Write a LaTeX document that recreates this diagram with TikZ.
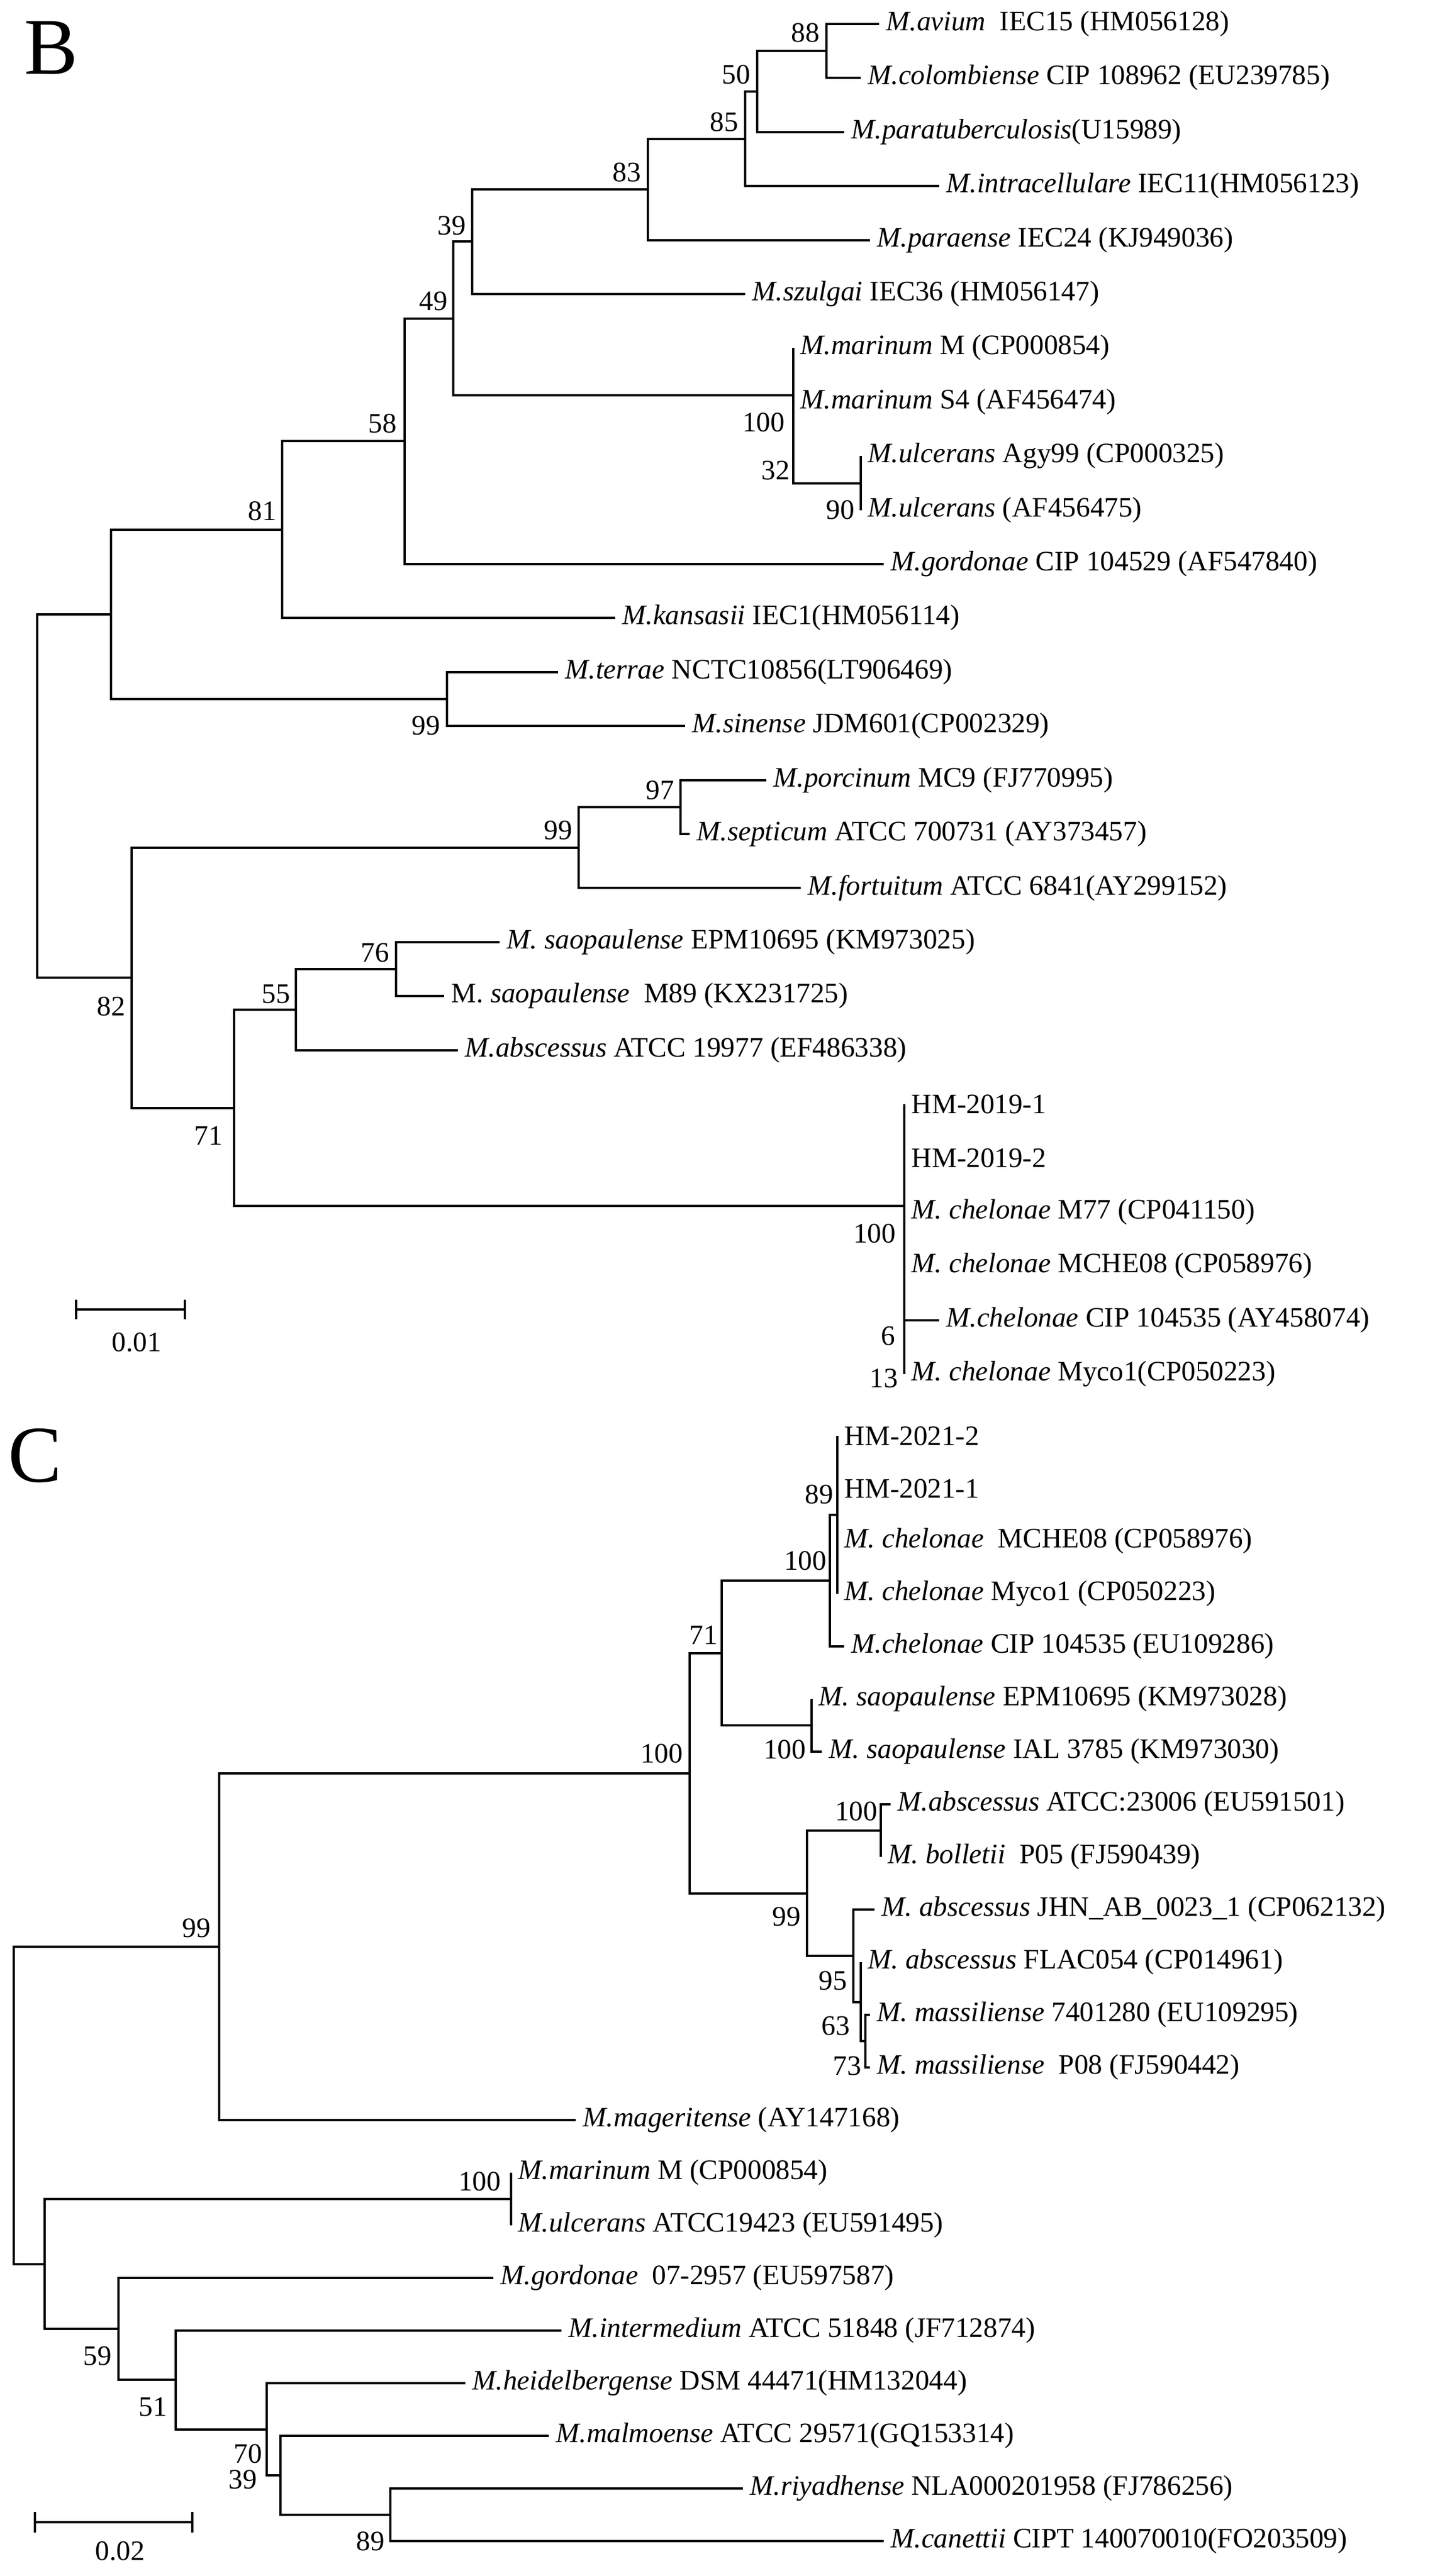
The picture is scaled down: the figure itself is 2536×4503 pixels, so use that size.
\documentclass[tikz,border=0pt]{standalone}
\usepackage{fontspec}
\setmainfont{Liberation Serif}
\begin{document}
\begin{tikzpicture}[x=0.01cm,y=-0.01cm,
  br/.style={line width=1.2pt},
  lab/.style={anchor=west,inner sep=0pt,xshift=0.12cm,font=\fontsize{14}{16}\selectfont},
  bs/.style={inner sep=0pt,font=\fontsize{14}{16}\selectfont},
  big/.style={inner sep=0pt,font=\fontsize{40}{44}\selectfont}]
\useasboundingbox (0,0) rectangle (2536,4503);
\newcommand\lf[4]{\coordinate (#1) at (#2,#3); \node[lab] (#1t) at (#1) {#4};}
\newcommand\bsv[3]{\node[bs] at (#1,#2) {#3};}
% ---------------- Panel B ----------------
\node[big] (B) at (89,84) {B};
\lf{avium}{1536}{42}{\textit{M.avium}\ \ IEC15 (HM056128)}
\lf{colomb}{1504}{136}{\textit{M.colombiense} CIP 108962 (EU239785)}
\lf{paratub}{1475}{231}{\textit{M.paratuberculosis}(U15989)}
\lf{intra}{1641}{325}{\textit{M.intracellulare} IEC11(HM056123)}
\lf{paraense}{1520}{420}{\textit{M.paraense} IEC24 (KJ949036)}
\lf{szulgai}{1302}{514}{\textit{M.szulgai} IEC36 (HM056147)}
\lf{marM}{1386}{608}{\textit{M.marinum} M (CP000854)}
\lf{marS}{1386}{703}{\textit{M.marinum} S4 (AF456474)}
\lf{ulcA}{1504}{797}{\textit{M.ulcerans} Agy99 (CP000325)}
\lf{ulc}{1504}{892}{\textit{M.ulcerans} (AF456475)}
\lf{gord}{1544}{986}{\textit{M.gordonae} CIP 104529 (AF547840)}
\lf{kans}{1075}{1080}{\textit{M.kansasii} IEC1(HM056114)}
\lf{terrae}{975}{1175}{\textit{M.terrae} NCTC10856(LT906469)}
\lf{sin}{1197}{1269}{\textit{M.sinense} JDM601(CP002329)}
\lf{porc}{1339}{1364}{\textit{M.porcinum} MC9 (FJ770995)}
\lf{sept}{1205}{1458}{\textit{M.septicum} ATCC 700731 (AY373457)}
\lf{fort}{1399}{1552}{\textit{M.fortuitum} ATCC 6841(AY299152)}
\lf{saoE}{873}{1647}{\textit{M. saopaulense} EPM10695 (KM973025)}
\lf{saoM}{776}{1741}{M. \textit{saopaulense}\ \ M89 (KX231725)}
\lf{absc}{800}{1836}{\textit{M.abscessus} ATCC 19977 (EF486338)}
\lf{hmA}{1580}{1930}{HM-2019-1}
\lf{hmB}{1580}{2024}{HM-2019-2}
\lf{m77}{1580}{2119}{\textit{M. chelonae} M77 (CP041150)}
\lf{mch}{1580}{2213}{\textit{M. chelonae} MCHE08 (CP058976)}
\lf{cip}{1641}{2308}{\textit{M.chelonae} CIP 104535 (AY458074)}
\lf{myco}{1580}{2402}{\textit{M. chelonae} Myco1(CP050223)}
\coordinate (n88) at (1444,89);
\coordinate (n50) at (1323,160);
\coordinate (n85) at (1302,243);
\coordinate (n83) at (1132,331);
\coordinate (n39) at (825,422);
\coordinate (nUlc) at (1504,845);
\coordinate (nMar) at (1386,691);
\coordinate (n49) at (792,557);
\coordinate (n58) at (707,771);
\coordinate (n81) at (493,926);
\coordinate (nTer) at (781,1222);
\coordinate (nTop) at (194,1074);
\coordinate (n97) at (1189,1411);
\coordinate (n99) at (1011,1482);
\coordinate (n76) at (692,1694);
\coordinate (n55) at (517,1765);
\coordinate (nChel) at (1580,2108);
\coordinate (n71) at (409,1937);
\coordinate (n82) at (230,1709);
\coordinate (rootB) at (65,1391);
\coordinate (cipN) at (1580,2308);
\begin{scope}[br]
\draw (n88) |- (avium); \draw (n88) |- (colomb);
\draw (n50) |- (n88); \draw (n50) |- (paratub);
\draw (n85) |- (n50); \draw (n85) |- (intra);
\draw (n83) |- (n85); \draw (n83) |- (paraense);
\draw (n39) |- (n83); \draw (n39) |- (szulgai);
\draw (nUlc) |- (ulcA); \draw (nUlc) |- (ulc);
\draw (nMar) -- (marM); \draw (nMar) |- (nUlc);
\draw (n49) |- (n39); \draw (n49) |- (nMar);
\draw (n58) |- (n49); \draw (n58) |- (gord);
\draw (n81) |- (n58); \draw (n81) |- (kans);
\draw (nTer) |- (terrae); \draw (nTer) |- (sin);
\draw (nTop) |- (n81); \draw (nTop) |- (nTer);
\draw (n97) |- (porc); \draw (n97) |- (sept);
\draw (n99) |- (n97); \draw (n99) |- (fort);
\draw (n76) |- (saoE); \draw (n76) |- (saoM);
\draw (n55) |- (n76); \draw (n55) |- (absc);
\draw (hmA) -- (myco);
\draw (cipN) -- (cip);
\draw (n71) |- (n55); \draw (n71) |- (nChel);
\draw (n82) |- (n99); \draw (n82) |- (n71);
\draw (rootB) |- (nTop); \draw (rootB) |- (n82);
\end{scope}
\bsv{1407}{57}{88}\bsv{1286}{130}{50}\bsv{1265}{213}{85}\bsv{1095}{301}{83}
\bsv{789}{394}{39}\bsv{757}{526}{49}\bsv{1334}{738}{100}\bsv{1355}{822}{32}
\bsv{1468}{891}{90}\bsv{668}{740}{58}\bsv{458}{893}{81}\bsv{744}{1268}{99}
\bsv{1153}{1381}{97}\bsv{975}{1451}{99}\bsv{655}{1665}{76}\bsv{482}{1738}{55}
\bsv{194}{1759}{82}\bsv{364}{1985}{71}\bsv{1528}{2156}{100}\bsv{1552}{2335}{6}
\bsv{1544}{2409}{13}
% scale bar B
\coordinate (sbBa) at (133,2289); \coordinate (sbBb) at (323,2289);
\draw[br] (sbBa) -- (sbBb);
\draw[br] ([yshift=0.17cm]sbBa) -- ([yshift=-0.17cm]sbBa);
\draw[br] ([yshift=0.17cm]sbBb) -- ([yshift=-0.17cm]sbBb);
\node[bs] (sbBl) at (239,2346) {0.01};
% ---------------- Panel C ----------------
\node[big] (C) at (61,2545) {C};
\lf{hc2}{1463}{2510}{HM-2021-2}
\lf{hc1}{1463}{2602}{HM-2021-1}
\lf{cmch}{1463}{2694}{\textit{M. chelonae}\ \ MCHE08 (CP058976)}
\lf{cmyco}{1463}{2786}{\textit{M. chelonae} Myco1 (CP050223)}
\lf{ccip}{1475}{2878}{\textit{M.chelonae} CIP 104535 (EU109286)}
\lf{csaoE}{1418}{2970}{\textit{M. saopaulense} EPM10695 (KM973028)}
\lf{csaoI}{1436}{3062}{\textit{M. saopaulense} IAL 3785 (KM973030)}
\lf{cabsA}{1556}{3154}{\textit{M.abscessus} ATCC:23006 (EU591501)}
\lf{cbol}{1539}{3246}{\textit{M. bolletii}\ \ P05 (FJ590439)}
\lf{cjhn}{1528}{3338}{\textit{M. abscessus} JHN\_AB\_0023\_1 (CP062132)}
\lf{cflac}{1504}{3430}{\textit{M. abscessus} FLAC054 (CP014961)}
\lf{cmas1}{1520}{3522}{\textit{M. massiliense} 7401280 (EU109295)}
\lf{cmas2}{1520}{3614}{\textit{M. massiliense}\ \ P08 (FJ590442)}
\lf{cmag}{1006}{3706}{\textit{M.mageritense} (AY147168)}
\lf{cmar}{893}{3798}{\textit{M.marinum} M (CP000854)}
\lf{culc}{893}{3890}{\textit{M.ulcerans} ATCC19423 (EU591495)}
\lf{cgor}{862}{3982}{\textit{M.gordonae}\ \ 07-2957 (EU597587)}
\lf{cint}{981}{4074}{\textit{M.intermedium} ATCC 51848 (JF712874)}
\lf{chei}{813}{4166}{\textit{M.heidelbergense} DSM 44471(HM132044)}
\lf{cmal}{959}{4258}{\textit{M.malmoense} ATCC 29571(GQ153314)}
\lf{criy}{1298}{4350}{\textit{M.riyadhense} NLA000201958 (FJ786256)}
\lf{ccan}{1544}{4442}{\textit{M.canettii} CIPT 140070010(FO203509)}
\coordinate (c89) at (1463,2648);
\coordinate (c100) at (1450,2763);
\coordinate (cSao) at (1418,3016);
\coordinate (c71) at (1261,2890);
\coordinate (cAbs) at (1539,3200);
\coordinate (c73) at (1512,3568);
\coordinate (c63) at (1504,3500);
\coordinate (c95) at (1491,3419);
\coordinate (c99) at (1410,3310);
\coordinate (c100b) at (1205,3100);
\coordinate (c99r) at (383,3403);
\coordinate (cMar) at (893,3844);
\coordinate (c89b) at (682,4396);
\coordinate (c39) at (490,4327);
\coordinate (c70) at (466,4247);
\coordinate (c51) at (307,4160);
\coordinate (c59) at (207,4071);
\coordinate (cLow) at (78,3958);
\coordinate (rootC) at (24,3680);
\begin{scope}[br]
\draw (hc2) -- (cmyco);
\draw (c100) |- (c89); \draw (c100) |- (ccip);
\draw (cSao) |- (csaoE); \draw (cSao) |- (csaoI);
\draw (c71) |- (c100); \draw (c71) |- (cSao);
\draw (cAbs) |- (cabsA); \draw (cAbs) |- (cbol);
\draw (c73) |- (cmas1); \draw (c73) |- (cmas2);
\draw (c63) -- (cflac); \draw (c63) |- (c73);
\draw (c95) |- (cjhn); \draw (c95) |- (c63);
\draw (c99) |- (cAbs); \draw (c99) |- (c95);
\draw (c100b) |- (c71); \draw (c100b) |- (c99);
\draw (c99r) |- (c100b); \draw (c99r) |- (cmag);
\draw (cMar) |- (cmar); \draw (cMar) |- (culc);
\draw (c89b) |- (criy); \draw (c89b) |- (ccan);
\draw (c39) |- (cmal); \draw (c39) |- (c89b);
\draw (c70) |- (chei); \draw (c70) |- (c39);
\draw (c51) |- (cint); \draw (c51) |- (c70);
\draw (c59) |- (cgor); \draw (c59) |- (c51);
\draw (cLow) |- (cMar); \draw (cLow) |- (c59);
\draw (rootC) |- (c99r); \draw (rootC) |- (cLow);
\end{scope}
\bsv{1431}{2612}{89}\bsv{1407}{2728}{100}\bsv{1229}{2858}{71}\bsv{1371}{3058}{100}
\bsv{1156}{3065}{100}\bsv{1496}{3166}{100}\bsv{1374}{3350}{99}\bsv{1455}{3462}{95}
\bsv{1460}{3541}{63}\bsv{1480}{3611}{73}\bsv{343}{3370}{99}\bsv{838}{3813}{100}
\bsv{170}{4118}{59}\bsv{267}{4207}{51}\bsv{433}{4289}{70}\bsv{424}{4334}{39}
\bsv{647}{4442}{89}
% scale bar C
\coordinate (sbCa) at (61,4409); \coordinate (sbCb) at (336,4409);
\draw[br] (sbCa) -- (sbCb);
\draw[br] ([yshift=0.18cm]sbCa) -- ([yshift=-0.18cm]sbCa);
\draw[br] ([yshift=0.18cm]sbCb) -- ([yshift=-0.18cm]sbCb);
\node[bs] (sbCl) at (210,4459) {0.02};
\end{tikzpicture}
\end{document}
